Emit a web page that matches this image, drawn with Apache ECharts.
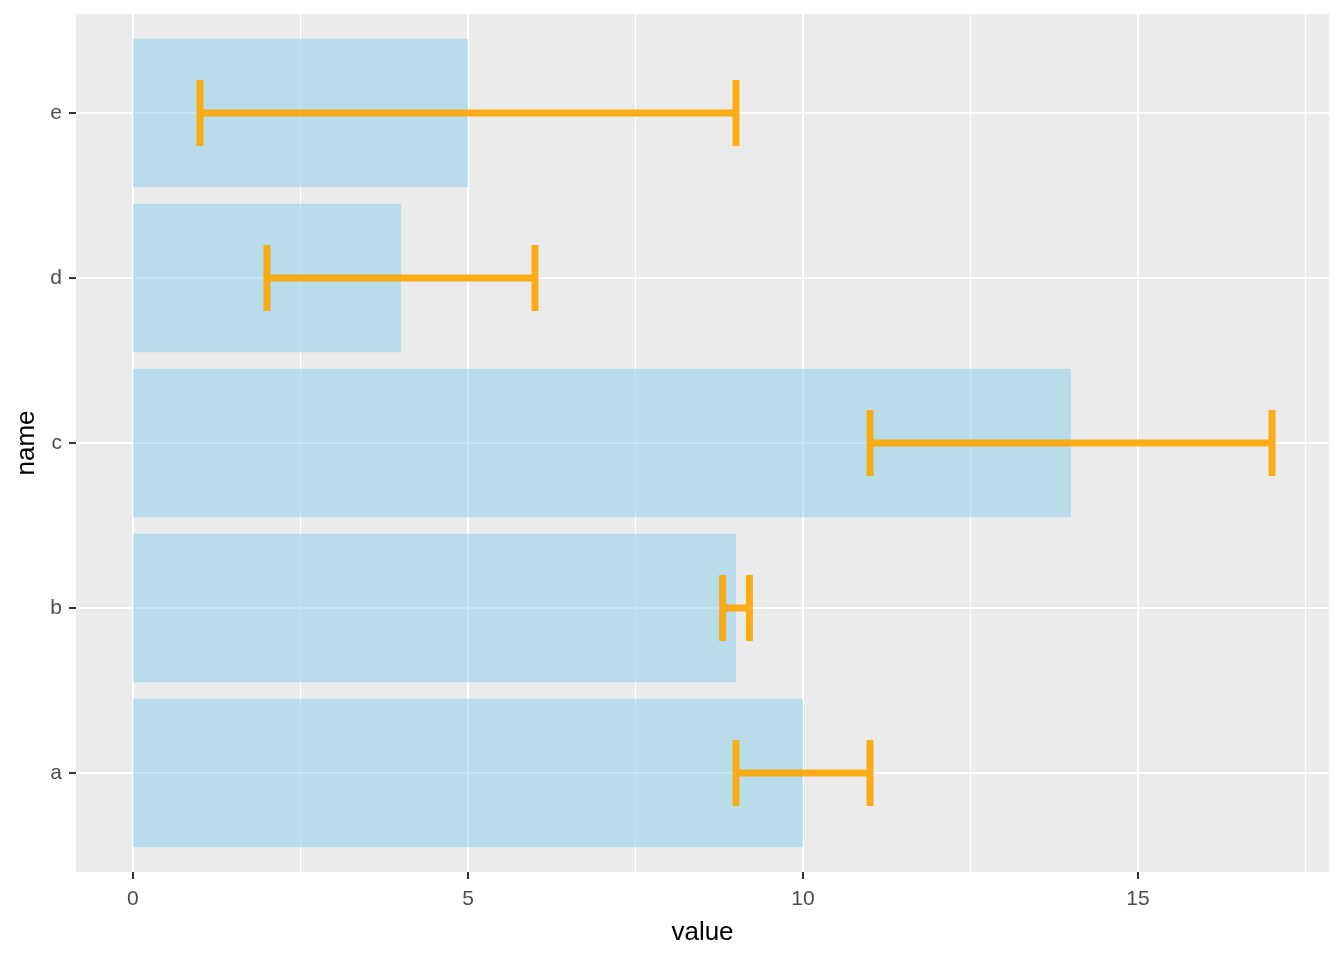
<!DOCTYPE html>
<html>
<head>
<meta charset="utf-8">
<script src="https://cdn.jsdelivr.net/npm/echarts@6/dist/echarts.min.js"></script>
<style>html,body{margin:0;padding:0;background:#fff}#c{width:1344px;height:960px}</style>
</head>
<body>
<div id="c"></div>
<script>
var names = ['a', 'b', 'c', 'd', 'e'];
var values = [10, 9, 14, 4, 5];
var errLow = [9, 8.8, 11, 2, 1];
var errHigh = [11, 9.2, 17, 6, 9];
var xTicks = [0, 5, 10, 15];
var xMinor = [2.5, 7.5, 12.5, 17.5];

var barData = names.map(function (n, i) { return [i + 1, values[i]]; });
var errData = names.map(function (n, i) { return [i + 1, errLow[i], errHigh[i]]; });
var yPos = names.map(function (n, i) { return i + 1; });

var chart = echarts.init(document.getElementById('c'));
var font = 'Liberation Sans, Arial, sans-serif';
chart.setOption({
  animation: false,
  grid: {left: 76, right: 15, top: 14, bottom: 88, show: true, backgroundColor: '#EBEBEB', borderWidth: 0, containLabel: false},
  xAxis: [{
    type: 'value', min: -0.85, max: 17.85,
    name: 'value', nameLocation: 'middle', nameGap: 61,
    nameTextStyle: {fontFamily: font, fontSize: 26, color: '#000', verticalAlign: 'middle'},
    axisLine: {show: false, onZero: false},
    axisTick: {show: true, length: 7, customValues: xTicks, lineStyle: {color: '#333333', width: 2}},
    axisLabel: {customValues: xTicks, margin: 17, fontFamily: font, fontSize: 21, color: '#4D4D4D'},
    splitLine: {show: true, lineStyle: {color: '#FFFFFF', width: 2}}
  }, {
    type: 'value', min: -0.85, max: 17.85, position: 'bottom',
    axisLine: {show: false, onZero: false},
    axisTick: {show: false, customValues: xMinor},
    axisLabel: {show: false, customValues: xMinor},
    splitLine: {show: true, lineStyle: {color: '#FFFFFF', width: 1}}
  }],
  yAxis: {
    type: 'value', min: 0.4, max: 5.6,
    name: 'name', nameLocation: 'middle', nameGap: 38, nameRotate: 90,
    nameTextStyle: {fontFamily: font, fontSize: 26, color: '#000', verticalAlign: 'middle'},
    axisLine: {show: false, onZero: false},
    axisTick: {show: true, length: 7, customValues: yPos, lineStyle: {color: '#333333', width: 2}},
    axisLabel: {customValues: yPos, margin: 14, padding: [8, 0, 0, 0], fontFamily: font, fontSize: 21, color: '#4D4D4D',
      formatter: function (v) { return names[Math.round(v) - 1]; }},
    splitLine: {show: true, lineStyle: {color: '#FFFFFF', width: 2}}
  },
  series: [{
    type: 'custom',
    xAxisIndex: 0,
    data: barData,
    encode: {x: 1, y: 0},
    renderItem: function (params, api) {
      var y = api.value(0), v = api.value(1);
      var p1 = api.coord([0, y + 0.45]);
      var p2 = api.coord([v, y - 0.45]);
      return {type: 'rect', shape: {x: p1[0], y: p1[1], width: p2[0] - p1[0], height: p2[1] - p1[1]},
        style: {fill: 'rgba(135,206,235,0.5)'}};
    },
    z: 2
  }, {
    type: 'custom',
    xAxisIndex: 0,
    data: errData,
    encode: {x: [1, 2], y: 0},
    renderItem: function (params, api) {
      var y = api.value(0), lo = api.value(1), hi = api.value(2);
      var a1 = api.coord([lo, y + 0.2]), a2 = api.coord([lo, y - 0.2]);
      var m1 = api.coord([lo, y]), m2 = api.coord([hi, y]);
      var b1 = api.coord([hi, y + 0.2]), b2 = api.coord([hi, y - 0.2]);
      return {type: 'polyline', shape: {points: [a1, a2, m1, m2, b2, b1]},
        style: {stroke: 'rgba(255,165,0,0.9)', lineWidth: 7, fill: null, lineCap: 'butt', lineJoin: 'miter'}};
    },
    z: 3
  }]
});
</script>
</body>
</html>
